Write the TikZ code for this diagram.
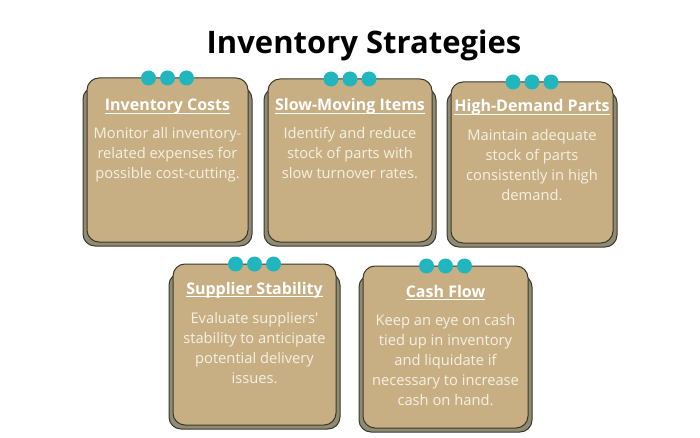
\documentclass[tikz,border=0pt]{standalone}
\usepackage{fontspec}
\setmainfont{Open Sans}
\definecolor{tan}{HTML}{C8AF83}
\definecolor{shade}{HTML}{8F8A72}
\definecolor{edge}{HTML}{3B382E}
\definecolor{teal}{HTML}{21B6BE}
\definecolor{cream}{HTML}{F5F0E4}
\tikzset{
  frontbox/.style={fill=tan, draw=edge, line width=1pt, rounded corners=12pt},
  backbox/.style={fill=shade, draw=edge, line width=1pt, rounded corners=12pt},
  dot/.style={circle, fill=teal, inner sep=0pt, minimum size=15pt},
  headtxt/.style={inner sep=0pt, text=white, font=\fontsize{16}{19}\selectfont\bfseries, anchor=base},
  bodytxt/.style={inner sep=0pt, text=cream, anchor=base},
  titletxt/.style={inner sep=0pt, font=\fontsize{31}{36}\selectfont\bfseries, anchor=base},
}
% #1 name, #2 left, #3 top, #4 right, #5 bottom, #6 heading, #7 heading baseline, #8 body baseline, #9 body lines
\newcommand\mkcard[9]{%
  \draw[backbox] (#2-4,#3+9) rectangle (#4+4,#5+4);
  \draw[frontbox] (#2,#3) rectangle (#4,#5);
  \coordinate (#1top) at ({(#2+#4)/2},#3);
  \node[dot] (#1d1) at ([xshift=-19pt]#1top) {};
  \node[dot] (#1d2) at (#1top) {};
  \node[dot] (#1d3) at ([xshift=19pt]#1top) {};
  \node[headtxt] (#1h) at ({(#2+#4)/2},#7) {#6};
  \draw[white, line width=1pt] ([yshift=-2.6pt]#1h.base west) -- ([yshift=-2.6pt]#1h.base east);
  \node[bodytxt] (#1b) at ({(#2+#4)/2},#8) {\parbox[t]{200pt}{\centering\fontsize{14.7}{20}\selectfont #9}};
}
\begin{document}
\begin{tikzpicture}[x=1pt,y=-1pt]
\useasboundingbox[fill=white] (0,0) rectangle (700,438);
\node[titletxt] (title) at (364,54) {Inventory Strategies};
\mkcard{a}{87}{78}{248}{242}{Inventory Costs}{111}{139}{Monitor all inventory-\\related expenses for\\possible cost-cutting.}
\mkcard{b}{268}{79}{432}{242}{Slow-Moving Items}{111}{139}{Identify and reduce\\stock of parts with\\slow turnover rates.}
\mkcard{c}{451}{82}{613}{243}{High-Demand Parts}{112}{141}{Maintain adequate\\stock of parts\\consistently in high\\demand.}
\mkcard{d}{173}{264}{336}{425}{Supplier Stability}{294}{323}{Evaluate suppliers\textquotesingle\\stability to anticipate\\potential delivery\\issues.}
\mkcard{e}{363}{266}{528}{428}{Cash Flow}{297}{325}{Keep an eye on cash\\tied up in inventory\\and liquidate if\\necessary to increase\\cash on hand.}
\end{tikzpicture}
\end{document}
